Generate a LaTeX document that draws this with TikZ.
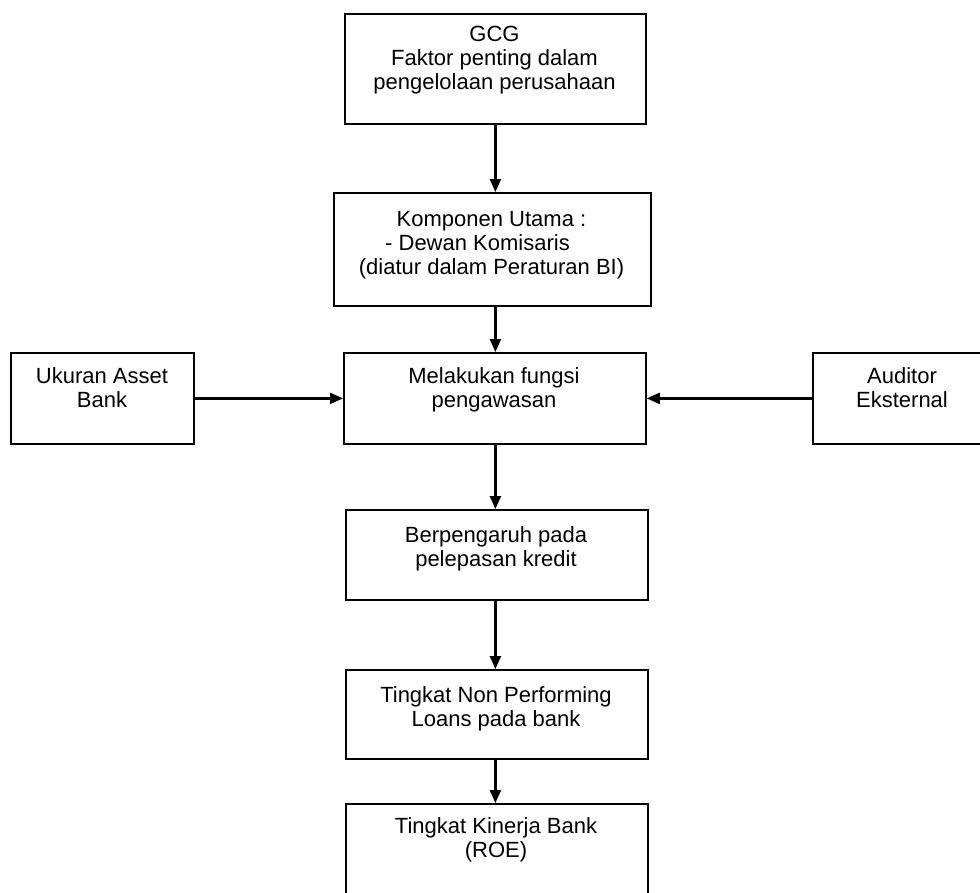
\documentclass[tikz,border=0pt]{standalone}
\usepackage{fontspec}
\setmainfont{Liberation Sans}
\usetikzlibrary{arrows.meta}
\tikzset{
  boxnode/.style={draw=black, line width=1.8pt, inner sep=0pt, anchor=north west},
  txt/.style={align=center, inner sep=0pt, anchor=north, font=\fontsize{22}{24}\selectfont},
  arr/.style={draw=black, line width=2.2pt, -{Triangle[length=13pt,width=11pt]}}
}
\begin{document}
\begin{tikzpicture}[x=1pt,y=-1pt]
\useasboundingbox (0,0) rectangle (980,892);
\clip (0,0) rectangle (980,892);
% boxes
\node[boxnode, minimum width=301pt, minimum height=110pt] (b1) at (344,13) {};
\node[boxnode, minimum width=317pt, minimum height=113pt] (b2) at (333,192) {};
\node[boxnode, minimum width=302pt, minimum height=91pt] (b3) at (343,352) {};
\node[boxnode, minimum width=183pt, minimum height=91pt] (lb) at (10,352) {};
\node[boxnode, minimum width=180pt, minimum height=91pt] (rb) at (812,352) {};
\node[boxnode, minimum width=302pt, minimum height=90pt] (b4) at (345,509) {};
\node[boxnode, minimum width=302pt, minimum height=89pt] (b5) at (345,669) {};
\node[boxnode, minimum width=302pt, minimum height=120pt] (b6) at (345,803) {};
% texts
\node[txt] (t1) at (494.5,26) {GCG\\Faktor penting dalam\\pengelolaan perusahaan};
\node[txt] (t2) at (491.5,211) {Komponen Utama :\\- Dewan Komisaris\hbox to 28pt{}\\(diatur dalam Peraturan BI)};
\node[txt] (t3) at (494,367) {Melakukan fungsi\\pengawasan};
\node[txt] (tl) at (102,367) {Ukuran Asset\\Bank};
\node[txt] (tr) at (902,367) {Auditor\\Eksternal};
\node[txt] (t4) at (496,526) {Berpengaruh pada\\pelepasan kredit};
\node[txt] (t5) at (496,686) {Tingkat Non Performing\\Loans pada bank};
\node[txt] (t6) at (496,817) {Tingkat Kinerja Bank\\(ROE)};
% connectors
\draw[arr] (b1.south) -- (b1.south |- b2.north);
\draw[arr] (b2.south -| b1.south) -- (b3.north -| b1.south);
\draw[arr] (b3.south -| b1.south) -- (b4.north -| b1.south);
\draw[arr] (b4.south -| b1.south) -- (b5.north -| b1.south);
\draw[arr] (b5.south -| b1.south) -- (b6.north -| b1.south);
\draw[arr] (lb.east) -- (b3.west);
\draw[arr] (rb.west) -- (b3.east);
\end{tikzpicture}
\end{document}
